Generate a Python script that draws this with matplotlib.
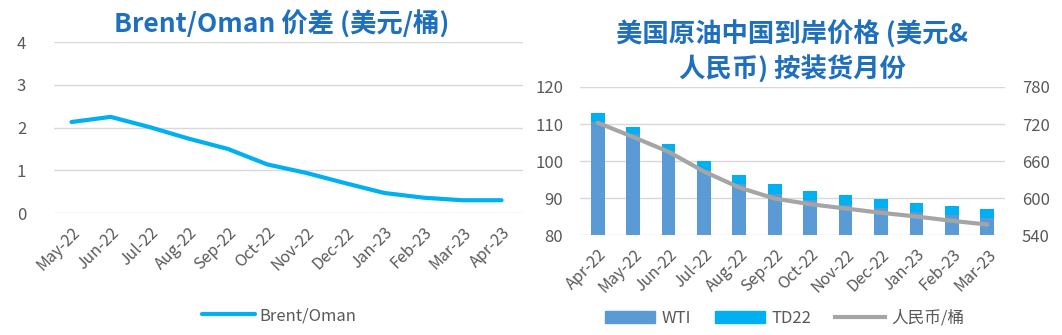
import matplotlib.pyplot as plt
from matplotlib.patches import Patch
from matplotlib.lines import Line2D

plt.rcParams['font.family'] = ['Noto Sans CJK SC', 'DejaVu Sans']

# Left chart: Brent/Oman spread
spread_months = ["May-22", "Jun-22", "Jul-22", "Aug-22", "Sep-22", "Oct-22",
                 "Nov-22", "Dec-22", "Jan-23", "Feb-23", "Mar-23", "Apr-23"]
spread = [2.13, 2.25, 2.01, 1.74, 1.50, 1.14, 0.94, 0.70, 0.47, 0.36, 0.30, 0.30]

# Right chart: US crude landed price in China
land_months = ["Apr-22", "May-22", "Jun-22", "Jul-22", "Aug-22", "Sep-22",
               "Oct-22", "Nov-22", "Dec-22", "Jan-23", "Feb-23", "Mar-23"]
wti = [110.6, 107.3, 102.6, 97.6, 93.7, 91.2, 89.5, 88.2, 87.2, 86.2, 85.3, 84.6]
td22 = [2.4, 2.0, 2.0, 2.4, 2.5, 2.5, 2.5, 2.6, 2.6, 2.4, 2.5, 2.3]
rmb = [722, 699, 675, 643, 617, 599, 590, 583, 576, 570, 563, 557]

TITLE_C = "#1F6FBF"
TXT_C = "#595959"
GRID_C = "#D9D9D9"

fig = plt.figure(figsize=(10.62, 3.35), dpi=100)


def style(ax):
    for s in ax.spines.values():
        s.set_visible(False)
    ax.tick_params(length=0, colors=TXT_C)
    ax.grid(axis="y", color=GRID_C, linewidth=1)
    ax.set_axisbelow(True)


# --- left ---
ax1 = fig.add_axes([0.0508, 0.364, 0.4417, 0.5104])
style(ax1)
x1 = range(len(spread_months))
ax1.plot(x1, spread, color="#00B0F0", linewidth=3, solid_capstyle="round",
         label="Brent/Oman")
ax1.set_xlim(-0.45, 11.55)
ax1.set_ylim(0, 4)
ax1.set_yticks([0, 1, 2, 3, 4])
ax1.set_xticks(list(x1))
ax1.set_xticklabels(spread_months, rotation=45, ha="right", rotation_mode="anchor")
ax1.tick_params(axis="y", labelsize=12, pad=20)
ax1.tick_params(axis="x", labelsize=11.5, pad=8)
fig.text(0.265, 0.925, "Brent/Oman 价差 (美元/桶)", ha="center", va="center",
         fontsize=19, fontweight="bold", color=TITLE_C)
ax1.legend(loc="center", bbox_to_anchor=(0.48, -0.6), frameon=False,
           fontsize=12, labelcolor=TXT_C, handlelength=3.2, handletextpad=0.3)

# --- right ---
ax2 = fig.add_axes([0.5461, 0.2985, 0.4002, 0.4418])
style(ax2)
x2 = range(len(land_months))
ax2.bar(x2, wti, width=0.39, color="#5B9BD5", label="WTI")
ax2.bar(x2, td22, width=0.39, bottom=wti, color="#00B0F0", label="TD22")
ax2.set_ylim(80, 120)
ax2.set_yticks([80, 90, 100, 110, 120])
ax2.set_xlim(-0.5, 11.5)
ax2.set_xticks(list(x2))
ax2.set_xticklabels(land_months, rotation=45, ha="right", rotation_mode="anchor")
ax2.tick_params(axis="y", labelsize=12, pad=12)
ax2.tick_params(axis="x", labelsize=11.5, pad=8)

ax3 = ax2.twinx()
for s in ax3.spines.values():
    s.set_visible(False)
ax3.plot(x2, rmb, color="#A5A5A5", linewidth=3, solid_capstyle="round")
ax3.set_ylim(540, 780)
ax3.set_yticks([540, 600, 660, 720, 780])
ax3.tick_params(length=0, colors=TXT_C, labelsize=12, pad=12)

fig.text(0.746, 0.845, "美国原油中国到岸价格 (美元&\n人民币) 按装货月份", ha="center",
         va="center", fontsize=19, fontweight="bold", color=TITLE_C,
         linespacing=1.3)

handles = [Patch(color="#5B9BD5", label="WTI"),
           Patch(color="#00B0F0", label="TD22"),
           Line2D([], [], color="#A5A5A5", linewidth=3, label="人民币/桶")]
fig.legend(handles=handles, loc="center", bbox_to_anchor=(0.739, 0.05),
           ncol=3, frameon=False, fontsize=12, labelcolor=TXT_C,
           handlelength=3.0, handletextpad=0.4, columnspacing=1.4)

fig.savefig("out.png", dpi=100)
